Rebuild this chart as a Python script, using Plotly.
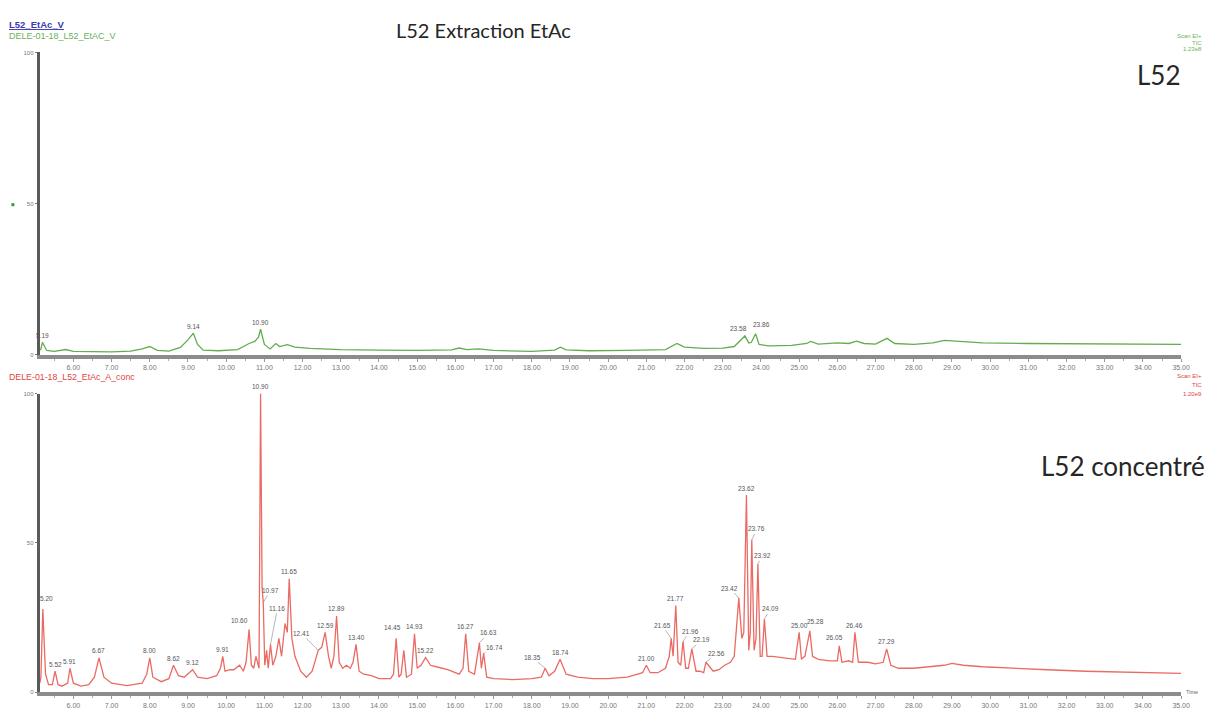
import plotly.graph_objects as go

W, H = 1209, 709

# ---- retention-time axis (minutes) ----
tick_minutes = [6, 7, 8, 9, 10, 11, 12, 13, 14, 15, 16, 17, 18, 19, 20,
                21, 22, 23, 24, 25, 26, 27, 28, 29, 30, 31, 32, 33, 34, 35]
tick_text = ["6.00", "7.00", "8.00", "9.00", "10.00", "11.00", "12.00", "13.00",
             "14.00", "15.00", "16.00", "17.00", "18.00", "19.00", "20.00",
             "21.00", "22.00", "23.00", "24.00", "25.00", "26.00", "27.00",
             "28.00", "29.00", "30.00", "31.00", "32.00", "33.00", "34.00", "35.00"]
rt_range = [5.118, 35.0]

# ---- L52 extract (TIC, relative abundance %) ----
l52_base_rt = [5.12, 5.15, 5.30, 5.5, 5.8, 6.0, 6.5, 7.0, 7.5, 7.8, 8.0, 8.2, 8.5,
               8.8, 9.0, 9.25, 9.4, 9.8, 10.3, 10.6, 10.75, 10.85, 11.0, 11.15,
               11.3, 11.4, 11.6, 11.8, 12.2, 13.0, 14.0, 15.0, 15.9, 16.1, 16.3,
               16.6, 17.0, 18.0, 18.6, 18.75, 18.9, 19.5, 20.5, 21.5, 21.8, 22.0,
               22.5, 23.0, 23.3, 23.45, 23.68, 23.75, 23.95, 24.2, 24.8, 25.2,
               25.3, 25.5, 25.8, 26.0, 26.3, 26.5, 26.7, 27.0, 27.3, 27.5, 28.0,
               28.5, 28.8, 29.2, 29.8, 31.0, 32.0, 33.0, 34.0, 35.0]
l52_base_int = [1.5, 2.0, 1.5, 1.2, 1.8, 1.2, 1.0, 1.0, 1.3, 2.0, 2.8, 1.5, 1.3,
                2.5, 5.0, 3.5, 1.6, 1.4, 1.8, 3.8, 4.5, 6.0, 3.5, 2.0,
                3.8, 2.8, 3.4, 2.6, 2.2, 1.8, 1.6, 1.5, 1.7, 2.3, 1.8,
                2.0, 1.5, 1.2, 1.6, 2.6, 1.7, 1.4, 1.5, 1.8, 3.8, 2.6,
                2.2, 2.3, 2.8, 4.5, 4.0, 4.2, 3.5, 3.0, 3.2, 3.8,
                4.5, 3.6, 3.8, 4.0, 3.8, 4.6, 3.8, 3.6, 5.5, 3.8, 3.5,
                4.0, 4.8, 4.5, 4.0, 3.8, 3.7, 3.6, 3.6, 3.5]
l52_peak_rt = [5.19, 9.14, 10.90, 23.58, 23.86]
l52_peak_int = [4.2, 7.2, 8.5, 6.3, 7.0]
l52_peak_txt = ["5.19", "9.14", "10.90", "23.58", "23.86"]

# ---- L52 concentrate (TIC, relative abundance %) ----
conc_base_rt = [5.12, 5.15, 5.27, 5.35, 5.45, 5.6, 5.7, 5.85, 6.0, 6.2, 6.4, 6.55,
                6.8, 7.0, 7.4, 7.8, 7.92, 8.08, 8.3, 8.5, 8.75, 8.9, 9.25, 9.5,
                9.75, 9.85, 9.97, 10.1, 10.2, 10.35, 10.45, 10.52, 10.66, 10.72,
                10.78, 10.86, 10.94, 11.01, 11.06, 11.10, 11.22, 11.3, 11.38,
                11.45, 11.54, 11.60, 11.72, 11.8, 11.95, 12.1, 12.25, 12.5,
                12.68, 12.75, 12.82, 12.96, 13.05, 13.15, 13.25, 13.32, 13.48,
                13.6, 13.8, 14.0, 14.3, 14.38, 14.52, 14.58, 14.65, 14.72,
                14.85, 15.0, 15.1, 15.35, 15.5, 15.8, 16.1, 16.2, 16.35, 16.5,
                16.68, 16.82, 17.0, 17.5, 18.0, 18.25, 18.45, 18.6, 18.9, 19.2,
                19.6, 20.0, 20.5, 20.9, 21.1, 21.3, 21.5, 21.6, 21.7, 21.83,
                21.9, 22.03, 22.1, 22.3, 22.4, 22.5, 22.75, 22.9, 23.05, 23.2,
                23.3, 23.50, 23.55, 23.68, 23.72, 23.82, 23.87, 23.98, 24.03,
                24.16, 24.3, 24.6, 24.9, 25.1, 25.06, 25.15, 25.35, 25.5, 25.8,
                26.0, 26.12, 26.3, 26.4, 26.55, 26.8, 27.0, 27.2, 27.4, 27.6,
                28.0, 28.4, 28.8, 29.0, 29.3, 29.8, 30.5, 31.5, 32.5, 33.5,
                34.3, 35.0]
conc_base_int = [3.0, 5.0, 6.0, 2.5, 2.5, 2.5, 2.0, 3.0, 3.0, 2.0, 2.5, 5.0,
                 5.0, 3.0, 2.2, 3.0, 6.0, 5.0, 3.5, 4.5, 5.5, 5.0, 5.0, 4.5,
                 5.5, 8.0, 7.0, 7.5, 7.5, 9.0, 7.0, 10.0, 9.0, 8.0,
                 12.0, 8.0, 35.0, 9.0, 14.0, 8.0, 9.0, 12.0, 18.0,
                 12.0, 23.0, 20.0, 18.0, 12.0, 7.0, 5.0, 7.0, 15.0,
                 12.0, 8.0, 12.0, 10.0, 8.0, 9.0, 8.0, 10.0, 7.0,
                 6.0, 5.5, 4.5, 4.5, 6.0, 5.0, 6.0, 14.0, 5.0,
                 6.0, 8.0, 9.0, 9.0, 8.5, 7.5, 6.0, 8.0, 7.0, 6.0,
                 8.0, 5.0, 4.5, 4.2, 4.5, 5.0, 5.5, 7.0, 6.0, 5.0,
                 4.5, 4.5, 5.0, 6.5, 6.5, 6.5, 8.0, 12.0, 12.0, 10.0,
                 9.0, 8.0, 8.0, 7.0, 7.0, 6.5, 7.0, 7.5, 9.0, 10.0,
                 12.0, 18.0, 20.0, 14.0, 20.0, 14.0, 18.0, 12.0, 12.0,
                 12.0, 12.0, 11.5, 11.0, 11.5, 11.0, 12.0, 12.0, 11.0, 10.5,
                 10.5, 10.0, 10.5, 10.0, 10.0, 10.0, 9.5, 10.0, 9.0, 8.0,
                 8.0, 8.5, 9.0, 9.6, 9.0, 8.5, 8.0, 7.5, 7.0, 6.8,
                 6.5, 6.3]
conc_peak_rt = [5.20, 5.52, 5.91, 6.67, 8.00, 8.62, 9.12, 9.91, 10.60, 10.90,
                10.97, 11.16, 11.65, 12.41, 12.59, 12.89, 13.40, 14.45, 14.93,
                15.22, 16.27, 16.63, 16.74, 18.35, 18.74, 21.00, 21.65, 21.77,
                21.96, 22.19, 22.56, 23.42, 23.62, 23.76, 23.92, 24.09, 25.00,
                25.28, 26.05, 26.46, 27.29]
conc_peak_int = [27.8, 7.0, 8.0, 11.5, 11.5, 9.0, 7.5, 12.0, 21.0, 100.0,
                 30.0, 16.0, 38.0, 14.0, 20.0, 25.5, 16.0, 18.0, 19.5,
                 11.6, 19.5, 16.5, 13.0, 8.0, 11.0, 9.0, 18.0, 29.0,
                 17.0, 14.5, 10.0, 31.5, 66.0, 51.0, 43.0, 24.5, 20.0,
                 20.5, 15.5, 20.0, 14.5]
conc_peak_txt = ["5.20", "5.52", "5.91", "6.67", "8.00", "8.62", "9.12", "9.91",
                 "10.60", "10.90", "10.97", "11.16", "11.65", "12.41", "12.59",
                 "12.89", "13.40", "14.45", "14.93", "15.22", "16.27", "16.63",
                 "16.74", "18.35", "18.74", "21.00", "21.65", "21.77", "21.96",
                 "22.19", "22.56", "23.42", "23.62", "23.76", "23.92", "24.09",
                 "25.00", "25.28", "26.05", "26.46", "27.29"]

# label placement (pixel offset of the label from its apex, drawn leader line)
default_offset = (0, -7, False)
l52_label_offsets = {"23.58": (-6, -7, False), "23.86": (6, -9, False)}
conc_label_offsets = {
    "5.20": (4, -11, False), "10.60": (-10, -9, False), "10.97": (7, -12, True),
    "11.16": (7, -36, True), "12.41": (-17, -17, True), "14.45": (-4, -11, False),
    "16.63": (9, -10, True), "16.74": (11, -6, True), "18.35": (-13, -11, True),
    "21.65": (-9, -13, True), "21.96": (7, -10, True), "22.19": (10, -9, True),
    "22.56": (11, -9, True), "23.42": (-9, -10, True), "23.76": (5, -11, True),
    "23.92": (5, -8, True), "24.09": (6, -10, True), "25.28": (6, -9, False),
    "26.05": (-5, -8, False),
}


def merge(base_rt, base_int, peak_rt, peak_int):
    pts = sorted(zip(base_rt + peak_rt, base_int + peak_int))
    return [p[0] for p in pts], [p[1] for p in pts]


green = "#62ad4f"
red = "#ea6a64"

fig = go.Figure()
x1, y1 = merge(l52_base_rt, l52_base_int, l52_peak_rt, l52_peak_int)
fig.add_trace(go.Scatter(x=x1, y=y1, mode="lines", xaxis="x", yaxis="y",
                         line=dict(color=green, width=1.3), hoverinfo="skip"))
x2, y2 = merge(conc_base_rt, conc_base_int, conc_peak_rt, conc_peak_int)
fig.add_trace(go.Scatter(x=x2, y=y2, mode="lines", xaxis="x2", yaxis="y2",
                         line=dict(color=red, width=1.3), hoverinfo="skip"))


def px(x):
    return x / W


def py(y):
    return 1 - y / H


xdom = [px(40), px(1190)]
top_dom = [py(356), py(50)]
bot_dom = [py(697), py(395)]

small = "Liberation Sans, Arial, sans-serif"
axis_font = dict(family=small, size=7, color="#777")
xcommon = dict(range=rt_range, tickvals=tick_minutes, ticktext=tick_text,
               showline=True, linecolor="#8c8c8c", linewidth=4, ticks="outside",
               ticklen=3, tickcolor="#999", tickfont=axis_font, showgrid=False,
               zeroline=False, domain=xdom,
               minor=dict(ticks="outside", ticklen=2, tickcolor="#aaa", dtick=0.5))
ycommon = dict(range=[0, 100], tickvals=[0, 50, 100], ticktext=["0", "50", "100"],
               showline=True, linecolor="#5a5a5a", linewidth=3, ticks="outside",
               ticklen=2, tickcolor="#777", tickfont=dict(family=small, size=6, color="#777"),
               showgrid=False, zeroline=False)

fig.update_layout(
    width=W, height=H, margin=dict(l=0, r=0, t=0, b=0),
    paper_bgcolor="white", plot_bgcolor="white", showlegend=False,
    xaxis=dict(anchor="y", **xcommon),
    yaxis=dict(anchor="x", domain=top_dom, **ycommon),
    xaxis2=dict(anchor="y2", **xcommon),
    yaxis2=dict(anchor="x2", domain=bot_dom, **ycommon),
)

ann = []
lbl_font = dict(family=small, size=6.5, color="#555")


def peak_labels(rts, vals, txts, offsets, xr, yr):
    for rt, v, t in zip(rts, vals, txts):
        dx, dy, leader = offsets.get(t, default_offset)
        ann.append(dict(x=rt, y=v, xref=xr, yref=yr, text=t, font=lbl_font,
                        showarrow=True, ax=dx, ay=dy, arrowhead=0, standoff=0,
                        arrowwidth=0.6,
                        arrowcolor="#888" if leader else "rgba(0,0,0,0)"))


peak_labels(l52_peak_rt, l52_peak_int, l52_peak_txt, l52_label_offsets, "x", "y")
peak_labels(conc_peak_rt, conc_peak_int, conc_peak_txt, conc_label_offsets, "x2", "y2")

title_font = dict(family="Lato, Open Sans, sans-serif", size=20, color="#262626")
side_font = dict(family="Lato, Open Sans, sans-serif", size=26, color="#262626")


def txt(x, y, s, font, xanchor="left", yanchor="middle", align="left"):
    ann.append(dict(x=px(x), y=py(y), xref="paper", yref="paper", text=s,
                    showarrow=False, xanchor=xanchor, yanchor=yanchor, font=font,
                    align=align))


txt(487, 27, "L52 Extraction EtAc", title_font, xanchor="center")
txt(1144, 73, "L52", side_font)
txt(1216, 468, "L52 concentré", side_font, xanchor="right")

txt(7, 22, "<b><u>L52_EtAc_V</u></b>", dict(family=small, size=9.5, color="#3b3bb0"))
txt(7, 33, "DELE-01-18_L52_EtAC_V", dict(family=small, size=9, color="#6ab35a"))
txt(7, 378, "DELE-01-18_L52_EtAc_A_conc", dict(family=small, size=8.8, color="#e0453f"))

for yy, s in [(33, "Scan EI+"), (40, "TIC"), (47, "1.23e8")]:
    txt(1213, yy, s, dict(family=small, size=6, color="#6ab35a"), xanchor="right")
for yy, s in [(377, "Scan EI+"), (386, "TIC"), (395, "1.20e9")]:
    txt(1213, yy, s, dict(family=small, size=6, color="#e0453f"), xanchor="right")
txt(1193, 697, "Time", dict(family=small, size=5.5, color="#666"))

fig.update_layout(annotations=ann)
fig.add_shape(type="rect", xref="paper", yref="paper",
              x0=px(11.5), x1=px(14.5), y0=py(205.5), y1=py(202.5),
              fillcolor="#2e9b3a", line=dict(width=0))

fig.write_html("out.html")
